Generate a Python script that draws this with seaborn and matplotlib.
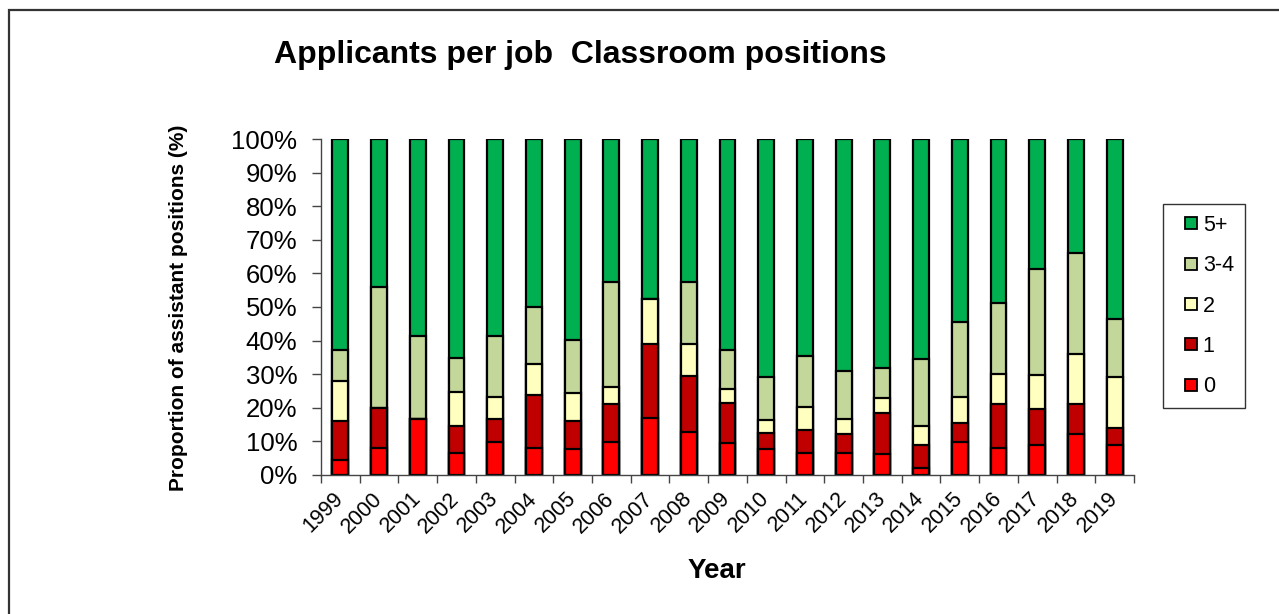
import matplotlib
matplotlib.use("Agg")
import matplotlib.pyplot as plt
import seaborn as sns
import numpy as np
import pandas as pd
from matplotlib.patches import Rectangle
from matplotlib.lines import Line2D
from matplotlib.ticker import FixedLocator

years = [str(y) for y in range(1999, 2020)]
cats = ["0", "1", "2", "3-4", "5+"]
v0 = [4.4, 7.9, 16.6, 6.4, 9.8, 7.9, 7.6, 9.8, 16.8, 12.8, 9.6, 7.6, 6.6, 6.6, 6.2, 1.9, 9.8, 7.9, 8.8, 12.1, 8.8]
v1 = [11.7, 11.9, 0.0, 8.1, 6.8, 15.9, 8.4, 11.2, 22.2, 16.6, 11.9, 4.9, 6.7, 5.4, 12.1, 6.9, 5.7, 13.1, 10.8, 8.9, 5.2]
v2 = [11.7, 0.0, 0.0, 10.1, 6.7, 9.2, 8.3, 5.0, 13.3, 9.5, 4.0, 3.8, 7.0, 4.6, 4.5, 5.8, 7.8, 8.9, 10.1, 14.9, 15.2]
v34 = [9.4, 36.3, 24.9, 10.1, 18.2, 16.9, 15.9, 31.4, 0.0, 18.5, 11.7, 12.7, 15.1, 14.3, 8.9, 19.9, 22.1, 21.2, 31.5, 30.1, 17.1]
v5 = [62.8, 43.9, 58.5, 65.3, 58.5, 50.1, 59.8, 42.6, 47.7, 42.6, 62.8, 71.0, 64.6, 69.1, 68.3, 65.5, 54.6, 48.9, 38.8, 34.0, 53.7]
colors = {"0": "#FF0000", "1": "#C00000", "2": "#FFFFC0", "3-4": "#C4D79B", "5+": "#00B050"}

series = np.array([v0, v1, v2, v34, v5])
totals = series.sum(axis=0)
pct = series / totals * 100
cum = np.cumsum(pct, axis=0)

df = pd.DataFrame({"Year": years})
for i, c in enumerate(cats):
    df[c] = cum[i]

plt.rcParams["font.family"] = ["Liberation Sans", "DejaVu Sans"]
fig = plt.figure(figsize=(12.79, 6.14), dpi=100)
W, H = 1279, 614
ax = fig.add_axes([321 / W, 1 - 474.7 / H, (1134 - 321) / W, (474.7 - 139.3) / H])

for c in reversed(cats):
    sns.barplot(data=df, x="Year", y=c, order=years, color=colors[c], width=0.41,
                edgecolor="black", linewidth=1.6, saturation=1, ax=ax, zorder=2)

ax.set_xlim(-0.5, len(years) - 0.5)
ax.set_ylim(0, 100)
ax.set_yticks(np.arange(0, 101, 10))
ax.set_yticklabels([f"{t}%" for t in range(0, 101, 10)], fontsize=18.5)
ax.tick_params(axis="y", length=6.5, width=1, color="#444444", pad=10.5)
ax.xaxis.set_minor_locator(FixedLocator(np.arange(-0.5, len(years), 1.0)))
ax.tick_params(axis="x", which="minor", length=6, width=1, color="#444444")
ax.tick_params(axis="x", which="major", length=0, pad=15)
ax.set_xticks(range(len(years)))
ax.set_xticklabels(years, rotation=45, ha="right", va="center", rotation_mode="anchor", fontsize=15.5)
ax.set_xlabel("")
ax.set_ylabel("")
for s in ["top", "right"]:
    ax.spines[s].set_visible(False)
for s in ["left", "bottom"]:
    ax.spines[s].set_color("#444444")
    ax.spines[s].set_linewidth(1)
ax.set_facecolor("white")

fig.text(580 / W, 1 - 55 / H, "Applicants per job  Classroom positions", ha="center", va="center",
         fontsize=23, fontweight="bold")
fig.text(178 / W, 1 - 308 / H, "Proportion of assistant positions (%)", ha="center", va="center",
         rotation=90, fontsize=15, fontweight="bold")
fig.text(717 / W, 1 - 571 / H, "Year", ha="center", va="center", fontsize=20, fontweight="bold")

handles = [Line2D([], [], linestyle="", marker="s", markersize=8.5, markerfacecolor=colors[c],
                  markeredgecolor="black", markeredgewidth=1.3, label=c) for c in reversed(cats)]
leg = fig.legend(handles=handles, loc="upper left", bbox_to_anchor=(1163 / W, 1 - 204 / H),
                 frameon=True, fancybox=False, fontsize=15.5, handlelength=1.6,
                 handletextpad=-0.25, labelspacing=0.9, borderpad=0.5, borderaxespad=0)
leg.get_frame().set_edgecolor("black")
leg.get_frame().set_linewidth(1)

fig.patches.append(Rectangle((9 / W, -0.1), 1.2, 1 - 10 / H + 0.1, transform=fig.transFigure,
                             fill=False, edgecolor="#333333", linewidth=1.6, figure=fig))

fig.savefig("out.png", dpi=100, facecolor="white")
